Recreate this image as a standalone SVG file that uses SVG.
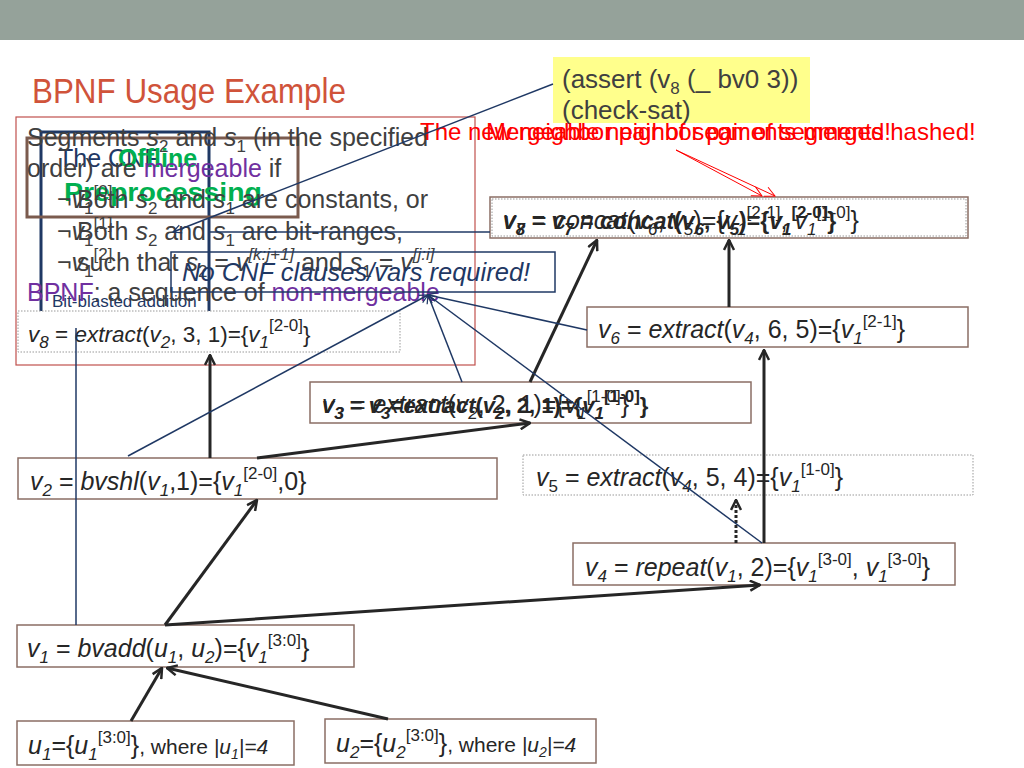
<svg xmlns="http://www.w3.org/2000/svg" width="1024" height="768" viewBox="0 0 1024 768">
<defs>
<style>
.n{font-family:"Liberation Sans",Arial,sans-serif;font-size:25px;fill:#262626}
.i{font-style:italic}
.s{font-size:17px}
.box{fill:#fff;stroke:#8a6e64;stroke-width:1.5}
.dot{fill:#fff;stroke:#999;stroke-width:1;stroke-dasharray:1.5 1.5}
.seg{font-family:"Liberation Sans",Arial,sans-serif;font-size:25px;fill:#404040}
.pur{fill:#7030a0}
.red{font-family:"Liberation Sans",Arial,sans-serif;font-size:24px;fill:#ff0000}
.nv{stroke:#1f3864;stroke-width:1.5;fill:none}
.tk{stroke:#262626;stroke-width:3;fill:none}
</style>
<marker id="ah" viewBox="0 0 12 12" refX="11" refY="6" markerWidth="12" markerHeight="12" markerUnits="userSpaceOnUse" orient="auto">
<path d="M1,1 L11,6 L1,11" fill="none" stroke="#262626" stroke-width="2.5"/>
</marker>
<marker id="an" viewBox="0 0 12 12" refX="11" refY="6" markerWidth="10" markerHeight="10" markerUnits="userSpaceOnUse" orient="auto">
<path d="M1,1 L11,6 L1,11" fill="none" stroke="#1f3864" stroke-width="1.5"/>
</marker>
<marker id="ar" viewBox="0 0 12 12" refX="11" refY="6" markerWidth="12" markerHeight="12" markerUnits="userSpaceOnUse" orient="auto">
<path d="M1,1 L11,6 L1,11" fill="none" stroke="#ff0000" stroke-width="1"/>
</marker>
</defs>
<rect x="0" y="0" width="1024" height="768" fill="#fff"/>
<rect x="0" y="0" width="1024" height="40" fill="#95a29a"/>
<text x="32" y="103" font-family="Liberation Sans, Arial, sans-serif" font-size="35" fill="#d0533a" textLength="314" lengthAdjust="spacingAndGlyphs">BPNF Usage Example</text>

<g id="yellow">
<rect x="553" y="57" width="257" height="66" fill="#ffff8c"/>
<text x="562" y="88" class="seg" style="font-size:26px">(assert (v<tspan class="s" dy="6">8</tspan><tspan dy="-6"> (_ bv0 3))</tspan></text>
<text x="562" y="119" class="seg" style="font-size:26px">(check-sat)</text>
</g>

<g id="panel">
<rect x="16" y="117" width="459" height="248" fill="none" stroke="#c0504d" stroke-width="1.2"/>
<rect x="41" y="132" width="168" height="196" fill="none" stroke="#1f3864" stroke-width="3"/>
<rect x="27" y="138" width="271" height="79" fill="none" stroke="#7b5b4e" stroke-width="3"/>
<text x="58" y="167" font-family="Liberation Sans, Arial, sans-serif" font-size="25" fill="#1f3864">The CNF</text>
<text x="118" y="167" font-family="Liberation Sans, Arial, sans-serif" font-size="25" font-weight="bold" fill="#00b050">Offline</text>
<text x="64" y="201" font-family="Liberation Sans, Arial, sans-serif" font-size="25" font-weight="bold" fill="#00b050" textLength="198" lengthAdjust="spacingAndGlyphs">Preprocessing</text>
<text x="57" y="208" class="seg">¬<tspan class="i">v</tspan><tspan class="s" dy="6">1</tspan><tspan class="s" dy="-17">[0]</tspan></text>
<text x="57" y="240" class="seg">¬<tspan class="i">v</tspan><tspan class="s" dy="6">1</tspan><tspan class="s" dy="-17">[1]</tspan></text>
<text x="57" y="271" class="seg">¬<tspan class="i">v</tspan><tspan class="s" dy="6">1</tspan><tspan class="s" dy="-17">[2]</tspan></text>
<text x="52" y="307" font-family="Liberation Sans, Arial, sans-serif" font-size="17" fill="#1f3864">Bit-blasted addition</text>
<text x="27" y="146" class="seg">Segments <tspan class="i">s</tspan><tspan class="s" dy="6">2</tspan><tspan dy="-6"> and </tspan><tspan class="i">s</tspan><tspan class="s" dy="6">1</tspan><tspan dy="-6"> (in the specified</tspan></text>
<text x="27" y="177" class="seg">order) are <tspan class="pur">mergeable</tspan> if</text>
<text x="77" y="208" class="seg">Both <tspan class="i">s</tspan><tspan class="s" dy="6">2</tspan><tspan dy="-6"> and </tspan><tspan class="i">s</tspan><tspan class="s" dy="6">1</tspan><tspan dy="-6"> are constants, or</tspan></text>
<text x="77" y="240" class="seg">Both <tspan class="i">s</tspan><tspan class="s" dy="6">2</tspan><tspan dy="-6"> and </tspan><tspan class="i">s</tspan><tspan class="s" dy="6">1</tspan><tspan dy="-6"> are bit-ranges,</tspan></text>
<text x="77" y="271" class="seg">such that <tspan class="i">s</tspan><tspan class="s" dy="6">2</tspan><tspan dy="-6"> = </tspan><tspan class="i">v</tspan><tspan class="s i" dy="-11">[k:j+1]</tspan><tspan dy="11"> and </tspan><tspan class="i">s</tspan><tspan class="s" dy="6">1</tspan><tspan dy="-6"> = </tspan><tspan class="i">v</tspan><tspan class="s i" dy="-11">[j:i]</tspan></text>
<text x="27" y="301" class="seg"><tspan class="pur">BPNF</tspan>: a sequence of <tspan class="pur">non-mergeable</tspan></text>
<text x="27" y="331" class="seg">segments</text>
<rect x="171" y="252" width="384" height="40" fill="none" stroke="#1f3864" stroke-width="1.5"/>
<text x="182" y="281" font-family="Liberation Sans, Arial, sans-serif" font-size="25.5" font-style="italic" fill="#1f3864">No CNF clauses/vars required!</text>
</g>

<g id="redmsg">
<text x="420" y="140" class="red">The new neighbor pair of segments merged!</text>
<text x="486" y="140" class="red">Mergeable neighbor pair of segments hashed!</text>
</g>

<g id="v7">
<rect x="490" y="197" width="478" height="41" class="box"/>
<rect x="492" y="199" width="474" height="37" fill="none" stroke="#999" stroke-width="1" stroke-dasharray="1.5 1.5"/>
<text x="503" y="229" class="n"><tspan class="i">v</tspan><tspan class="s i" dy="6">7</tspan><tspan dy="-6"> = </tspan><tspan class="i">concat</tspan>(<tspan class="i">v</tspan><tspan class="s i" dy="6">6</tspan><tspan dy="-6">, </tspan><tspan class="i">v</tspan><tspan class="s i" dy="6">5</tspan><tspan dy="-6">)={</tspan><tspan class="i">v</tspan><tspan class="s i" dy="6">1</tspan><tspan class="s" dy="-17">[2-1]</tspan><tspan dy="11">, </tspan><tspan class="i">v</tspan><tspan class="s i" dy="6">1</tspan><tspan class="s" dy="-17">[1-0]</tspan><tspan dy="11">}</tspan></text>
<text x="503" y="229" class="n" style="font-size:23px;font-weight:bold"><tspan class="i">v</tspan><tspan class="s i" dy="6">8</tspan><tspan dy="-6"> = </tspan><tspan class="i">v</tspan><tspan class="s i" dy="6">7</tspan><tspan dy="-6"> = </tspan><tspan class="i">concat</tspan>(<tspan class="i">v</tspan><tspan class="s i" dy="6">6</tspan><tspan dy="-6">, </tspan><tspan class="i">v</tspan><tspan class="s i" dy="6">5</tspan><tspan dy="-6">)={</tspan><tspan class="i">v</tspan><tspan class="s i" dy="6">1</tspan><tspan class="s" dy="-17">[2-0]</tspan><tspan dy="11">}</tspan></text>
</g>

<g id="v8">
<rect x="18" y="311" width="382" height="41" class="dot"/>
<text x="28" y="342" class="n" style="font-size:22.5px"><tspan class="i">v</tspan><tspan class="s i" dy="6">8</tspan><tspan dy="-6"> = </tspan><tspan class="i">extract</tspan>(<tspan class="i">v</tspan><tspan class="s i" dy="6">2</tspan><tspan dy="-6">, 3, 1)={</tspan><tspan class="i">v</tspan><tspan class="s i" dy="6">1</tspan><tspan class="s" dy="-17">[2-0]</tspan><tspan dy="11">}</tspan></text>
</g>

<g id="v6">
<rect x="587" y="307" width="381" height="40" class="box"/>
<text x="598" y="338" class="n"><tspan class="i">v</tspan><tspan class="s i" dy="6">6</tspan><tspan dy="-6"> = </tspan><tspan class="i">extract</tspan>(<tspan class="i">v</tspan><tspan class="s i" dy="6">4</tspan><tspan dy="-6">, 6, 5)={</tspan><tspan class="i">v</tspan><tspan class="s i" dy="6">1</tspan><tspan class="s" dy="-17">[2-1]</tspan><tspan dy="11">}</tspan></text>
</g>

<g id="v3">
<rect x="310" y="382" width="441" height="41" class="box"/>
<text x="322" y="413" class="n"><tspan class="i">v</tspan><tspan class="s i" dy="6">3</tspan><tspan dy="-6"> = </tspan><tspan class="i">extract</tspan>(<tspan class="i">v</tspan><tspan class="s i" dy="6">2</tspan><tspan dy="-6">, 2, 1)={</tspan><tspan class="i">v</tspan><tspan class="s i" dy="6">1</tspan><tspan class="s" dy="-17">[1-0]</tspan><tspan dy="11">}</tspan></text>
<text x="322" y="413" class="n" style="font-size:22px;font-weight:bold"><tspan class="i">v</tspan><tspan class="s i" dy="6">3</tspan><tspan dy="-6"> = </tspan><tspan class="i">v</tspan><tspan class="s i" dy="6">3</tspan><tspan dy="-6">=</tspan><tspan class="i">extract</tspan>(<tspan class="i">v</tspan><tspan class="s i" dy="6">2</tspan><tspan dy="-6">, 2, 1)={</tspan><tspan class="i">v</tspan><tspan class="s i" dy="6">1</tspan><tspan class="s" dy="-17">[1-0]</tspan><tspan dy="11">}</tspan></text>
</g>

<g id="v2">
<rect x="18" y="458" width="479" height="41" class="box"/>
<text x="30" y="490" class="n"><tspan class="i">v</tspan><tspan class="s i" dy="6">2</tspan><tspan dy="-6"> = </tspan><tspan class="i">bvshl</tspan>(<tspan class="i">v</tspan><tspan class="s i" dy="6">1</tspan><tspan dy="-6">,1)={</tspan><tspan class="i">v</tspan><tspan class="s i" dy="6">1</tspan><tspan class="s" dy="-17">[2-0]</tspan><tspan dy="11">,0}</tspan></text>
</g>

<g id="v5">
<rect x="523" y="455" width="450" height="40" class="dot"/>
<text x="536" y="486" class="n"><tspan class="i">v</tspan><tspan class="s" dy="6">5</tspan><tspan dy="-6"> = </tspan><tspan class="i">extract</tspan>(<tspan class="i">v</tspan><tspan class="s i" dy="6">4</tspan><tspan dy="-6">, 5, 4)={</tspan><tspan class="i">v</tspan><tspan class="s i" dy="6">1</tspan><tspan class="s" dy="-17">[1-0]</tspan><tspan dy="11">}</tspan></text>
</g>

<g id="v4">
<rect x="573" y="543" width="382" height="42" class="box"/>
<text x="585" y="576" class="n"><tspan class="i">v</tspan><tspan class="s i" dy="6">4</tspan><tspan dy="-6"> = </tspan><tspan class="i">repeat</tspan>(<tspan class="i">v</tspan><tspan class="s i" dy="6">1</tspan><tspan dy="-6">, 2)={</tspan><tspan class="i">v</tspan><tspan class="s i" dy="6">1</tspan><tspan class="s" dy="-17">[3-0]</tspan><tspan dy="11">, </tspan><tspan class="i">v</tspan><tspan class="s i" dy="6">1</tspan><tspan class="s" dy="-17">[3-0]</tspan><tspan dy="11">}</tspan></text>
</g>

<g id="v1">
<rect x="17" y="625" width="337" height="42" class="box"/>
<text x="27" y="657" class="n"><tspan class="i">v</tspan><tspan class="s i" dy="6">1</tspan><tspan dy="-6"> = </tspan><tspan class="i">bvadd</tspan>(<tspan class="i">u</tspan><tspan class="s i" dy="6">1</tspan><tspan dy="-6">, </tspan><tspan class="i">u</tspan><tspan class="s i" dy="6">2</tspan><tspan dy="-6">)={</tspan><tspan class="i">v</tspan><tspan class="s i" dy="6">1</tspan><tspan class="s" dy="-17">[3:0]</tspan><tspan dy="11">}</tspan></text>
</g>

<g id="u1">
<rect x="17" y="721" width="277" height="44" class="box"/>
<text x="28" y="754" class="n"><tspan class="i">u</tspan><tspan class="s i" dy="6">1</tspan><tspan dy="-6">={</tspan><tspan class="i">u</tspan><tspan class="s i" dy="6">1</tspan><tspan class="s" dy="-17">[3:0]</tspan><tspan dy="11">}</tspan><tspan style="font-size:21px">, where </tspan><tspan style="font-size:21px" class="i">|u</tspan><tspan class="i" style="font-size:14px" dy="5">1</tspan><tspan style="font-size:21px" class="i" dy="-5">|=4</tspan></text>
</g>

<g id="u2">
<rect x="325" y="719" width="271" height="44" class="box"/>
<text x="336" y="752" class="n"><tspan class="i">u</tspan><tspan class="s i" dy="6">2</tspan><tspan dy="-6">={</tspan><tspan class="i">u</tspan><tspan class="s i" dy="6">2</tspan><tspan class="s" dy="-17">[3:0]</tspan><tspan dy="11">}</tspan><tspan style="font-size:21px">, where </tspan><tspan style="font-size:21px" class="i">|u</tspan><tspan class="i" style="font-size:14px" dy="5">2</tspan><tspan style="font-size:21px" class="i" dy="-5">|=4</tspan></text>
</g>

<g id="connectors">
<line x1="210" y1="458" x2="210" y2="355" class="tk" marker-end="url(#ah)"/>
<line x1="257" y1="458" x2="530" y2="423" class="tk" marker-end="url(#ah)"/>
<line x1="530" y1="382" x2="597" y2="240" class="tk" marker-end="url(#ah)"/>
<line x1="729" y1="307" x2="729" y2="240" class="tk" marker-end="url(#ah)"/>
<line x1="764" y1="543" x2="764" y2="350" class="tk" marker-end="url(#ah)"/>
<line x1="736" y1="543" x2="736" y2="500" stroke="#262626" stroke-width="3" stroke-dasharray="3 2" fill="none" marker-end="url(#ah)"/>
<line x1="165" y1="625" x2="257" y2="500" class="tk" marker-end="url(#ah)"/>
<line x1="165" y1="625" x2="760" y2="585" class="tk" marker-end="url(#ah)"/>
<line x1="131" y1="721" x2="162" y2="668" class="tk" marker-end="url(#ah)"/>
<line x1="388" y1="719" x2="167" y2="668" class="tk" marker-end="url(#ah)"/>
<line x1="553" y1="84" x2="173" y2="232" class="nv" marker-end="url(#an)"/>
<line x1="490" y1="232" x2="209" y2="232" class="nv"/>
<line x1="76" y1="328" x2="76" y2="625" class="nv"/>
<line x1="128" y1="456" x2="428" y2="295" class="nv" marker-end="url(#an)"/>
<line x1="462" y1="382" x2="428" y2="295" class="nv" marker-end="url(#an)"/>
<line x1="762" y1="543" x2="428" y2="295" class="nv" marker-end="url(#an)"/>
<line x1="587" y1="330" x2="428" y2="295" class="nv" marker-end="url(#an)"/>
<line x1="676" y1="150" x2="762" y2="196" stroke="#ff0000" stroke-width="1" marker-end="url(#ar)"/>
<line x1="676" y1="150" x2="775" y2="196" stroke="#ff0000" stroke-width="1" marker-end="url(#ar)"/>
</g>
</svg>
